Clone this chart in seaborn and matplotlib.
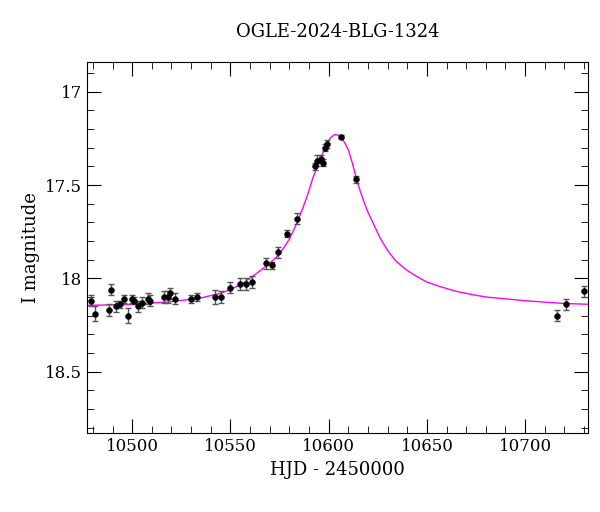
import numpy as np
import pandas as pd
import seaborn as sns
import matplotlib
matplotlib.use("Agg")
import matplotlib.pyplot as plt
from matplotlib.ticker import MultipleLocator, FormatStrFormatter

# dados observados (HJD - 2450000, magnitude I, erro)
hjd = [10479, 10481, 10488, 10489, 10492, 10494, 10496, 10498, 10500, 10501,
       10503, 10505, 10508, 10509, 10516, 10518, 10519, 10522, 10530, 10533,
       10542, 10545, 10550, 10555, 10558, 10561, 10568, 10571, 10574, 10579,
       10584, 10593, 10594, 10596, 10597, 10598, 10599, 10606.5, 10614,
       10716, 10721, 10730]
mag = [18.12, 18.19, 18.17, 18.06, 18.15, 18.14, 18.11, 18.20, 18.11, 18.12,
       18.15, 18.13, 18.11, 18.12, 18.10, 18.10, 18.08, 18.11, 18.11, 18.10,
       18.10, 18.10, 18.05, 18.03, 18.03, 18.02, 17.92, 17.93, 17.86, 17.76,
       17.68, 17.40, 17.37, 17.36, 17.38, 17.30, 17.28, 17.24, 17.47,
       18.20, 18.14, 18.07]
err = [0.03, 0.04, 0.03, 0.03, 0.03, 0.02, 0.02, 0.04, 0.02, 0.02,
       0.03, 0.03, 0.03, 0.03, 0.03, 0.03, 0.03, 0.03, 0.02, 0.02,
       0.04, 0.03, 0.03, 0.03, 0.03, 0.03, 0.03, 0.02, 0.03, 0.02,
       0.03, 0.02, 0.03, 0.02, 0.02, 0.02, 0.02, 0.01, 0.02,
       0.03, 0.03, 0.03]

# modelo
model_t = [10476, 10500, 10520, 10535, 10545, 10550, 10555, 10560, 10565, 10570,
           10575, 10580, 10584, 10587, 10590, 10592, 10595, 10597, 10599, 10601,
           10603, 10605, 10606, 10608, 10610, 10612, 10614, 10616, 10618, 10620,
           10622, 10626, 10630, 10634, 10639, 10644, 10650, 10657, 10665, 10672,
           10680, 10690, 10700, 10720, 10735]
model_mag = [18.145, 18.14, 18.125, 18.105, 18.08, 18.06, 18.035, 18.0, 17.96, 17.92,
             17.87, 17.79, 17.70, 17.62, 17.53, 17.46, 17.38, 17.33, 17.28, 17.245,
             17.23, 17.232, 17.24, 17.27, 17.31, 17.38, 17.46, 17.53, 17.59, 17.645,
             17.69, 17.78, 17.85, 17.905, 17.95, 17.985, 18.02, 18.045, 18.07, 18.085,
             18.10, 18.11, 18.12, 18.135, 18.14]

df = pd.DataFrame({"hjd": hjd, "mag": mag, "err": err})
model = pd.DataFrame({"hjd": model_t, "mag": model_mag})

plt.rcParams["font.family"] = "DejaVu Serif"
fig = plt.figure(figsize=(6, 5.12), dpi=100)
ax = fig.add_axes([0.145, 0.154, 0.835, 0.725])

sns.lineplot(data=model, x="hjd", y="mag", color="magenta", lw=1, ax=ax)
ax.errorbar(df["hjd"], df["mag"], yerr=df["err"], fmt="none", ecolor="#555555",
            elinewidth=1, capsize=2.5, capthick=1)
sns.scatterplot(data=df, x="hjd", y="mag", color="black", s=18, edgecolor="black", ax=ax, zorder=3)

ax.set_xlim(10477, 10732)
ax.set_ylim(18.83, 16.84)
ax.xaxis.set_major_locator(MultipleLocator(50))
ax.xaxis.set_minor_locator(MultipleLocator(10))
ax.yaxis.set_major_locator(MultipleLocator(0.5))
ax.yaxis.set_minor_locator(MultipleLocator(0.1))
ax.yaxis.set_major_formatter(FormatStrFormatter("%g"))
ax.tick_params(which="both", direction="in", top=True, right=True, labelsize=12)
ax.tick_params(which="major", length=10)
ax.tick_params(which="minor", length=5)
ax.set_xlabel("HJD - 2450000", fontsize=13)
ax.set_ylabel("I magnitude", fontsize=13)
ax.set_title("OGLE-2024-BLG-1324", fontsize=13, pad=18)

fig.savefig("out.png")
